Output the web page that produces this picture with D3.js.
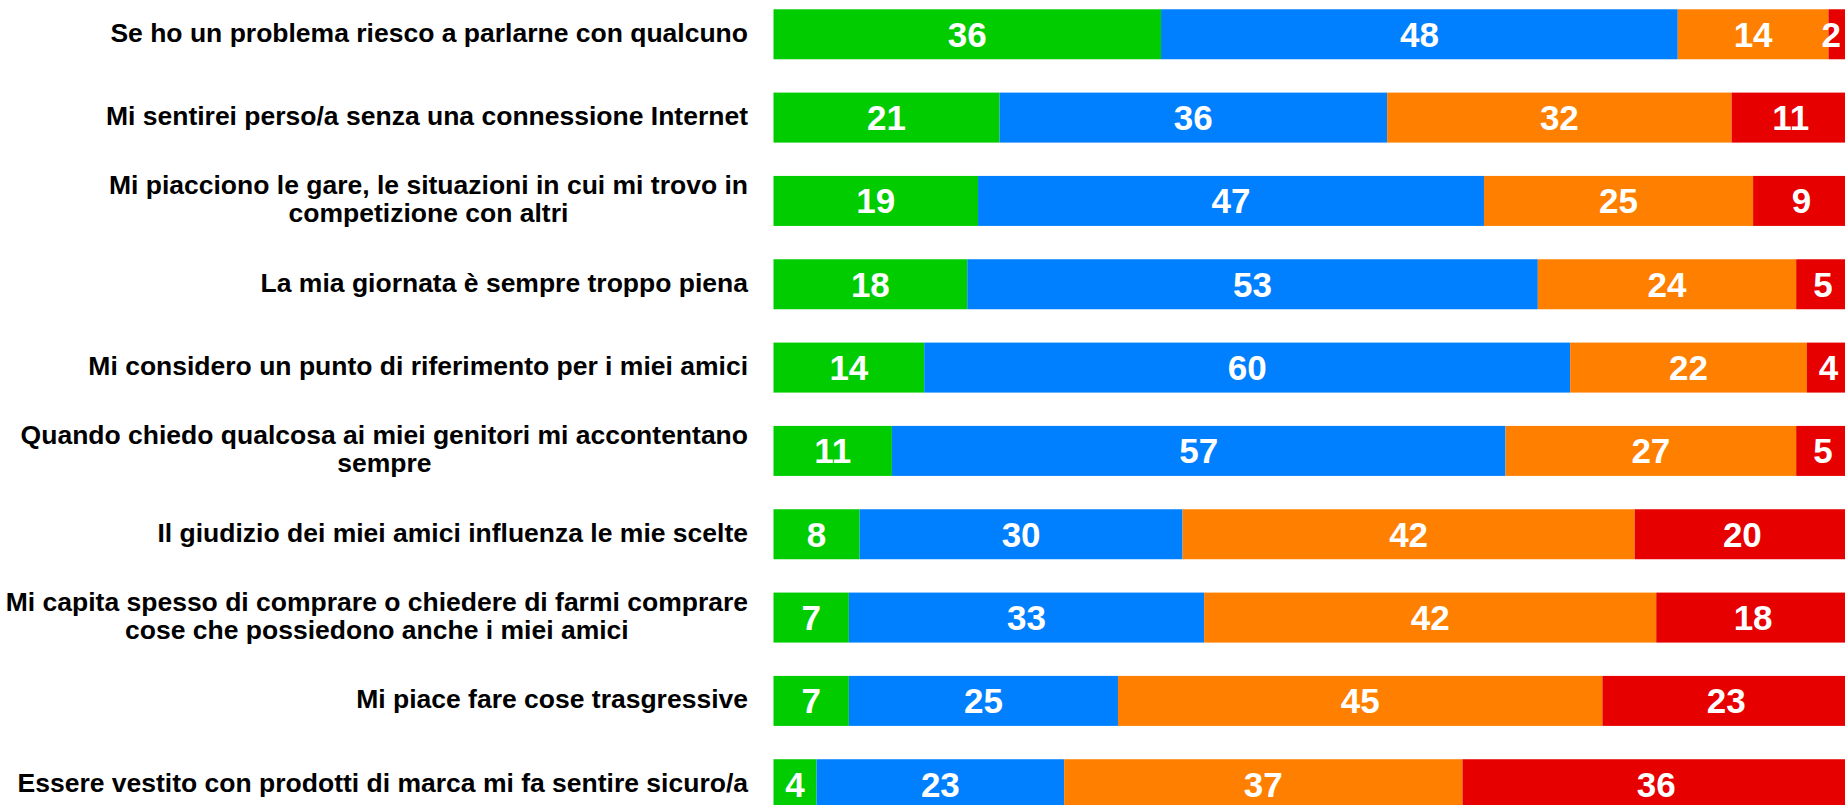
<!DOCTYPE html>
<html>
<head>
<meta charset="utf-8">
<script src="https://cdn.jsdelivr.net/npm/d3@7"></script>
<style>
  html, body { margin: 0; padding: 0; background: #ffffff; overflow: hidden; }
  svg { display: block; }
</style>
</head>
<body>
<svg id="chart" width="1845" height="805"></svg>
<script>
// ---- data ----
const categories = [
  "Se ho un problema riesco a parlarne con qualcuno",
  "Mi sentirei perso/a senza una connessione Internet",
  "Mi piacciono le gare, le situazioni in cui mi trovo in\ncompetizione con altri",
  "La mia giornata è sempre troppo piena",
  "Mi considero un punto di riferimento per i miei amici",
  "Quando chiedo qualcosa ai miei genitori mi accontentano\nsempre",
  "Il giudizio dei miei amici influenza le mie scelte",
  "Mi capita spesso di comprare o chiedere di farmi comprare\ncose che possiedono anche i miei amici",
  "Mi piace fare cose trasgressive",
  "Essere vestito con prodotti di marca mi fa sentire sicuro/a"
];
const seriesNames = ["s1", "s2", "s3", "s4"];
const series1 = [36, 21, 19, 18, 14, 11, 8, 7, 7, 4];
const series2 = [48, 36, 47, 53, 60, 57, 30, 33, 25, 23];
const series3 = [14, 32, 25, 24, 22, 27, 42, 42, 45, 37];
const series4 = [2, 11, 9, 5, 4, 5, 20, 18, 23, 36];
const colors = ["#00cc00", "#0080ff", "#ff8000", "#e60000"];

// ---- layout ----
const W = 1845, H = 805;
const svg = d3.select("#chart");
svg.append("rect").attr("width", W).attr("height", H).attr("fill", "#ffffff");

const rows = categories.map((c, i) => ({
  cat: c, vals: [series1[i], series2[i], series3[i], series4[i]]
}));

const x = d3.scaleLinear().domain([0, 100]).range([773.5, 1850]);
const y = d3.scaleBand().domain(d3.range(categories.length))
  .range([-7.4, 825.9]).paddingInner(0.4).paddingOuter(0.2);

const stack = d3.stack().keys([0, 1, 2, 3]).value((d, k) => d.vals[k]);
const stacked = stack(rows);

const g = svg.append("g");
stacked.forEach((layer, si) => {
  const lg = g.append("g");
  lg.selectAll("rect").data(layer).join("rect")
    .attr("x", d => x(d[0]))
    .attr("y", (d, i) => y(i))
    .attr("width", d => x(d[1]) - x(d[0]))
    .attr("height", y.bandwidth())
    .attr("fill", colors[si]);
});

// value labels
stacked.forEach((layer, si) => {
  g.append("g").selectAll("text").data(layer).join("text")
    .attr("x", d => (x(d[0]) + x(d[1])) / 2)
    .attr("y", (d, i) => y(i) + y.bandwidth() / 2 + 12.3)
    .attr("text-anchor", "middle")
    .attr("font-family", "'Liberation Sans', Arial, sans-serif")
    .attr("font-weight", "bold")
    .attr("font-size", "35px")
    .attr("fill", "#ffffff")
    .text(d => d.data.vals[si])
    .each(function() {
      const w = this.getComputedTextLength();
      const cx = +this.getAttribute("x");
      const maxC = W - 4 - w / 2;
      if (cx > maxC) this.setAttribute("x", maxC);
    });
});

// category labels (y axis)
const labelRight = 748;
const lineH = 28;
const lab = svg.append("g");
rows.forEach((r, i) => {
  const lines = r.cat.split("\n");
  const cy = y(i) + y.bandwidth() / 2;
  const t = lab.append("text")
    .attr("font-family", "'Liberation Sans', Arial, sans-serif")
    .attr("font-weight", "bold")
    .attr("font-size", "26.5px")
    .attr("fill", "#000000");
  // measure widest line to center lines within right-aligned block
  const widths = lines.map(l => {
    const tmp = lab.append("text")
      .attr("font-family", "'Liberation Sans', Arial, sans-serif")
      .attr("font-weight", "bold").attr("font-size", "26.5px").text(l);
    const w = tmp.node().getComputedTextLength();
    tmp.remove();
    return w;
  });
  const maxW = d3.max(widths);
  const centerX = labelRight - maxW / 2;
  lines.forEach((l, li) => {
    t.append("tspan")
      .attr("x", centerX)
      .attr("text-anchor", "middle")
      .attr("y", cy + 7.5 + (li - (lines.length - 1) / 2) * lineH)
      .text(l);
  });
});
</script>
</body>
</html>
